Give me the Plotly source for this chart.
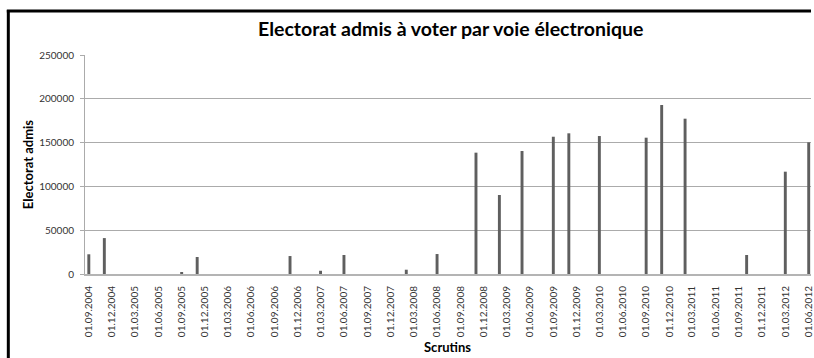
import plotly.graph_objects as go

# Data (month of each vote, electorate admitted to e-voting)
scrutins = ["2004-09-01", "2004-11-01", "2005-09-01", "2005-11-01", "2006-11-01",
            "2007-03-01", "2007-06-01", "2008-02-01", "2008-06-01", "2008-11-01",
            "2009-02-01", "2009-05-01", "2009-09-01", "2009-11-01", "2010-03-01",
            "2010-09-01", "2010-11-01", "2011-02-01", "2011-10-01", "2012-03-01",
            "2012-06-01"]
electorat = [22500, 41000, 1500, 19400, 20500,
             3700, 21700, 4900, 22800, 138500,
             90200, 140400, 156700, 160600, 157500,
             155600, 192900, 177300, 21700, 116800,
             150300]

title_text = "Electorat admis à voter par voie électronique"
x_title = "Scrutins"
y_title = "Electorat admis"

W, H = 814, 358
L, R, T, B = 85, 0, 55, 84
pw, ph = W - L - R, H - T - B

def px(x):
    return (x - L) / pw

def py(y):
    return (H - B - y) / ph

FONT = "Lato"
DAY = 86400000

fig = go.Figure()
fig.add_trace(go.Bar(
    x=scrutins, y=electorat,
    width=[11.5 * DAY] * len(scrutins),
    marker=dict(color="#5f5f5f", line=dict(width=0)),
    hoverinfo="x+y",
))

fig.update_layout(
    width=W, height=H,
    margin=dict(l=L, r=R, t=T, b=B),
    paper_bgcolor="white", plot_bgcolor="white",
    showlegend=False,
    xaxis=dict(
        type="date",
        range=["2004-08-17", "2012-06-10"],
        tick0="2004-09-01", dtick="M3", tickformat="%d.%m.%Y",
        tickangle=-90,
        showgrid=False,
        showline=True, linecolor="#b4b4b4", linewidth=2,
        ticks="", ticklabelstandoff=6,
        ticklabeloverflow="allow",
        tickfont=dict(family=FONT, size=10, color="#333333"),
        zeroline=False, mirror=False, showspikes=False,
    ),
    yaxis=dict(
        range=[0, 250000], dtick=50000, tickformat="d",
        showgrid=True, gridcolor="#ababab", gridwidth=1,
        showline=True, linecolor="#ababab", linewidth=1,
        ticks="outside", ticklen=4, tickcolor="#ababab",
        ticklabelstandoff=4,
        tickfont=dict(family=FONT, size=10, color="#333333"),
        zeroline=False, mirror=False, showspikes=False,
    ),
    annotations=[
        dict(text=title_text, xref="paper", yref="paper", x=px(452), y=py(29),
             xanchor="center", yanchor="middle", showarrow=False,
             font=dict(family=FONT, size=19.5, color="#000000", weight="bold")),
        dict(text=x_title, xref="paper", yref="paper", x=px(449), y=py(347),
             xanchor="center", yanchor="middle", showarrow=False,
             font=dict(family=FONT, size=13, color="#000000", weight="bold")),
        dict(text=y_title, xref="paper", yref="paper", x=px(28), y=py(164),
             xanchor="center", yanchor="middle", showarrow=False, textangle=-90,
             font=dict(family=FONT, size=13, color="#000000", weight="bold")),
    ],
    shapes=[
        dict(type="line", xref="paper", yref="paper",
             x0=px(8), x1=px(8), y0=py(10), y1=py(358),
             line=dict(color="black", width=3)),
        dict(type="line", xref="paper", yref="paper",
             x0=px(6.5), x1=px(814), y0=py(11), y1=py(11),
             line=dict(color="black", width=3)),
    ],
)

fig.write_html(
    "out.html",
    config={"displayModeBar": False},
    post_script="document.documentElement.style.overflow='hidden';"
                "document.body.style.overflow='hidden';"
                "document.body.style.margin='0';",
)
